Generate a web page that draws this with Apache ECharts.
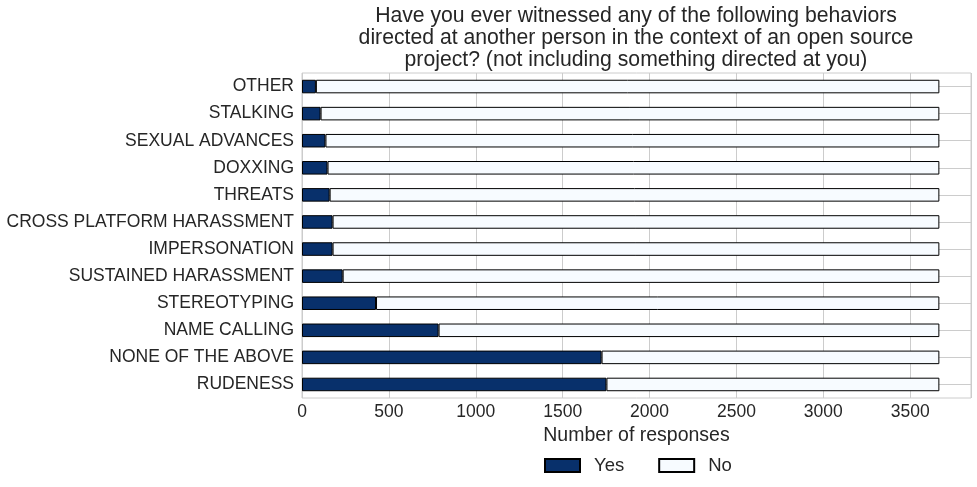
<!DOCTYPE html>
<html>
<head>
<meta charset="utf-8">
<script src="https://cdn.jsdelivr.net/npm/echarts@6/dist/echarts.min.js"></script>
<style>
  html, body { margin: 0; padding: 0; background: #fff; }
  #chart { width: 977px; height: 487px; }
</style>
</head>
<body>
<div id="chart"></div>
<script>
// categories, bottom to top
var categories = ['RUDENESS', 'NONE OF THE ABOVE', 'NAME CALLING', 'STEREOTYPING',
  'SUSTAINED HARASSMENT', 'IMPERSONATION', 'CROSS PLATFORM HARASSMENT', 'THREATS',
  'DOXXING', 'SEXUAL ADVANCES', 'STALKING', 'OTHER'];
var yesValues = [1752, 1724, 786, 426, 234, 176, 176, 159, 147, 135, 107, 80];
var noValues = [1916, 1944, 2882, 3242, 3434, 3492, 3492, 3509, 3521, 3533, 3561, 3588];
var xTicks = [0, 500, 1000, 1500, 2000, 2500, 3000, 3500];

var font = 'Liberation Sans';
var textColor = '#262626';
var gridColor = '#cccccc';

// horizontal grid lines sit on the category centres
var catLines = categories.map(function (c) { return { yAxis: c }; });

var chart = echarts.init(document.getElementById('chart'));
chart.setOption({
  animation: false,
  textStyle: { fontFamily: font },
  title: {
    text: 'Have you ever witnessed any of the following behaviors\ndirected at another person in the context of an open source\nproject? (not including something directed at you)',
    left: 636,
    top: 5,
    padding: 0,
    textAlign: 'center',
    textStyle: { fontFamily: font, fontSize: 21.2, fontWeight: 'normal', color: textColor, lineHeight: 22 }
  },
  legend: {
    data: ['Yes', 'No'],
    left: 544,
    top: 456,
    padding: 0,
    icon: 'rect',
    itemWidth: 35,
    itemHeight: 13,
    itemGap: 34,
    textStyle: { fontFamily: font, fontSize: 18.5, color: textColor, padding: [0, 0, 0, 9] }
  },
  grid: { left: 302, right: 6, top: 73, bottom: 89, show: true, borderColor: gridColor, borderWidth: 1 },
  xAxis: {
    type: 'value',
    min: 0,
    max: 3850,
    interval: 500,
    name: 'Number of responses',
    nameLocation: 'middle',
    nameGap: 26,
    nameTextStyle: { fontFamily: font, fontSize: 19.5, color: textColor },
    axisLine: { show: false },
    axisTick: { show: false },
    axisLabel: {
      fontFamily: font, fontSize: 17.5, color: textColor, margin: 5,
      formatter: function (v) { return xTicks.indexOf(v) >= 0 ? String(v) : ''; }
    },
    splitLine: { lineStyle: { color: gridColor, width: 1 } }
  },
  yAxis: {
    type: 'category',
    data: categories,
    axisLine: { show: false },
    axisTick: { show: false },
    axisLabel: { fontFamily: font, fontSize: 17.5, color: textColor, margin: 8 },
    splitLine: { show: false }
  },
  series: [
    {
      name: 'Yes', type: 'bar', stack: 'all', data: yesValues, barWidth: '50%', z: 3,
      itemStyle: { color: '#08306b', borderColor: '#000000', borderWidth: 1 },
      markLine: {
        silent: true, z: 1, symbol: 'none', animation: false,
        label: { show: false },
        lineStyle: { color: gridColor, type: 'solid', width: 1 },
        data: catLines
      }
    },
    {
      name: 'No', type: 'bar', stack: 'all', data: noValues, barWidth: '50%', z: 3,
      itemStyle: { color: '#f7fbff', borderColor: '#000000', borderWidth: 1 }
    }
  ]
});
</script>
</body>
</html>
